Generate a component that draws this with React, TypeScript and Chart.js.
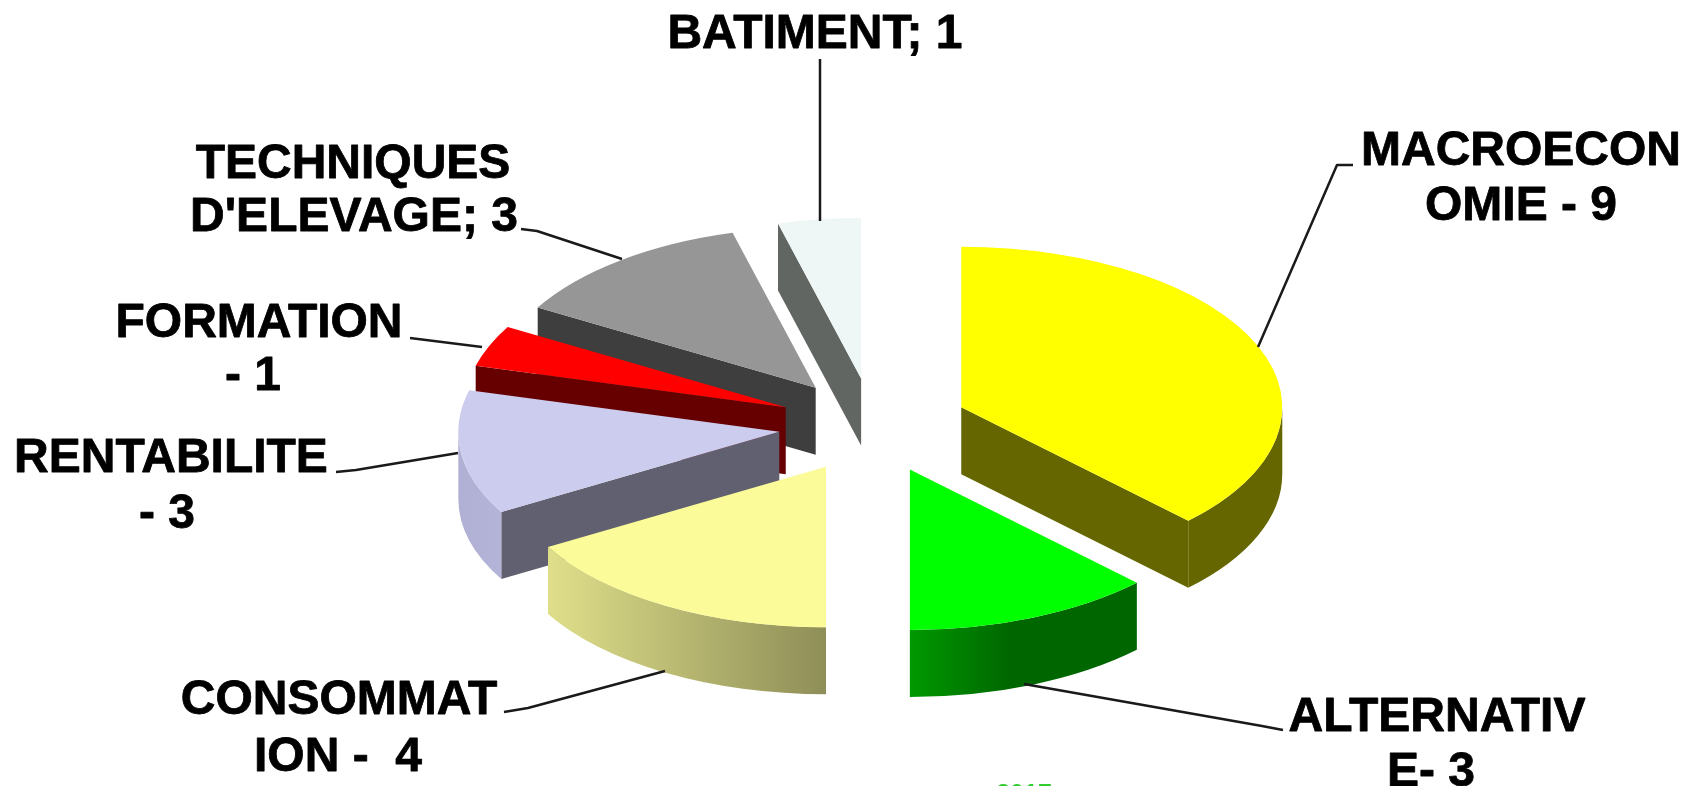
import React, { useEffect, useRef } from "react";
import { Chart, registerables } from "chart.js";

Chart.register(...registerables);

const categories = ["MACROECONOMIE", "ALTERNATIVE", "CONSOMMATION", "RENTABILITE", "FORMATION", "TECHNIQUES D'ELEVAGE", "BATIMENT"];
const sliceValues = [9, 3, 4, 3, 1, 3, 1];
const topColors = ["#FFFF00", "#00FF00", "#FBFB99", "#CCCCEE", "#FF0000", "#969696", "#EEF6F6"];
const cutColors = ["#666600", "#006600", "#8E8E58", "#606070", "#660000", "#3E3E3E", "#626662"];
const wallLeftColors = ["#666600", "#009900", "#DFDF8A", "#B0B0D4", "#660000", "#3E3E3E", "#626662"];
const wallRightColors = ["#666600", "#006600", "#8E8E58", "#B4B4D8", "#660000", "#3E3E3E", "#626662"];
const wallGradientEnd = [1, 0.45, 1, 1, 1, 1, 1];

const labelLines = [
  ["MACROECON", "OMIE - 9"],
  ["ALTERNATIV", "E- 3"],
  ["CONSOMMAT", "ION -  4"],
  ["RENTABILITE", "- 3"],
  ["FORMATION", "- 1"],
  ["TECHNIQUES", "D'ELEVAGE; 3"],
  ["BATIMENT; 1"],
];
const footerText = "2017";

const SQUASH = 0.5;
const EXPLODE = 95;
const DEPTH = 67;
const TAU = Math.PI * 2;

const labelXs = [[1521, 1521], [1437, 1431], [339, 338], [171, 167], [259, 253], [353, 354], [815]];
const labelBaselines = [[165, 220], [731, 786], [714, 771], [472, 528], [337, 390], [178, 231], [48]];
const leaders = [
  [[1353, 165], [1337, 165], [1258, 347]],
  [[1283, 730], [1262, 726], [1024, 684]],
  [[504, 712], [528, 708], [665, 671]],
  [[336, 472], [356, 470], [458, 453]],
  [[410, 338], [482, 347]],
  [[521, 229], [537, 231], [622, 259]],
  [[820, 59], [820, 221]],
];

const pie3d = {
  id: "pie3d",
  beforeDatasetsDraw(chart: any) {
    const ctx: CanvasRenderingContext2D = chart.ctx;
    const arcs: any[] = chart.getDatasetMeta(0).data;
    const order = arcs
      .map((arc, i) => ({ arc, i, mid: (arc.startAngle + arc.endAngle) / 2 }))
      .sort((a, b) => Math.sin(a.mid) - Math.sin(b.mid));

    for (const { arc, i, mid } of order) {
      const ax = arc.x + Math.cos(mid) * EXPLODE;
      const ay = arc.y + Math.sin(mid) * EXPLODE * SQUASH;
      const r = arc.outerRadius;

      // straight cut faces that look towards the viewer
      const face = (angle: number) => {
        ctx.beginPath();
        ctx.moveTo(ax, ay);
        ctx.lineTo(ax + Math.cos(angle) * r, ay + Math.sin(angle) * r * SQUASH);
        ctx.lineTo(ax + Math.cos(angle) * r, ay + Math.sin(angle) * r * SQUASH + DEPTH);
        ctx.lineTo(ax, ay + DEPTH);
        ctx.closePath();
        ctx.fillStyle = cutColors[i];
        ctx.fill();
      };
      if (-Math.cos(arc.startAngle) > 1e-6) face(arc.startAngle);
      if (Math.cos(arc.endAngle) > 1e-6) face(arc.endAngle);

      // outer rim: the part of the slice's arc on the near half of the ellipse
      for (const shift of [0, TAU, -TAU]) {
        const a0 = Math.max(arc.startAngle + shift, 0);
        const a1 = Math.min(arc.endAngle + shift, Math.PI);
        if (a1 <= a0) continue;
        ctx.beginPath();
        ctx.ellipse(ax, ay, r, r * SQUASH, 0, a0, a1);
        ctx.ellipse(ax, ay + DEPTH, r, r * SQUASH, 0, a1, a0, true);
        ctx.closePath();
        const xs = [ax + Math.cos(a0) * r, ax + Math.cos(a1) * r];
        const grad = ctx.createLinearGradient(Math.min(...xs), 0, Math.max(...xs), 0);
        grad.addColorStop(0, wallLeftColors[i]);
        grad.addColorStop(wallGradientEnd[i], wallRightColors[i]);
        ctx.fillStyle = grad;
        ctx.fill();
      }

      // top surface: the library's own arc element, flattened and moved out
      ctx.save();
      ctx.translate(ax, ay);
      ctx.scale(1, SQUASH);
      ctx.translate(-arc.x, -arc.y);
      arc.draw(ctx);
      ctx.restore();
    }
    return false;
  },
  afterDraw(chart: any) {
    const ctx: CanvasRenderingContext2D = chart.ctx;
    ctx.save();
    ctx.strokeStyle = "#1a1a1a";
    ctx.lineWidth = 2.5;
    ctx.lineJoin = "round";
    for (const line of leaders) {
      ctx.beginPath();
      line.forEach(([x, y], k) => (k ? ctx.lineTo(x, y) : ctx.moveTo(x, y)));
      ctx.stroke();
    }
    ctx.fillStyle = "#000000";
    ctx.strokeStyle = "#000000";
    ctx.lineWidth = 0.8;
    ctx.font = 'bold 48px "Liberation Sans", Arial, sans-serif';
    ctx.textAlign = "center";
    ctx.textBaseline = "alphabetic";
    labelLines.forEach((lines, i) =>
      lines.forEach((text, k) => {
        ctx.fillText(text, labelXs[i][k], labelBaselines[i][k]);
        ctx.strokeText(text, labelXs[i][k], labelBaselines[i][k]);
      })
    );
    ctx.fillStyle = "#33CC33";
    ctx.font = 'bold 25px "Liberation Sans", Arial, sans-serif';
    ctx.fillText(footerText, 1024, 802);
    ctx.restore();
  },
};

export default function App() {
  const ref = useRef<HTMLCanvasElement>(null);
  useEffect(() => {
    const chart = new Chart(ref.current as HTMLCanvasElement, {
      type: "pie",
      data: {
        labels: categories,
        datasets: [
          {
            data: sliceValues,
            backgroundColor: topColors,
            borderWidth: 0,
            radius: 321,
          } as any,
        ],
      },
      options: {
        animation: false,
        responsive: false,
        devicePixelRatio: 1,
        layout: { padding: { left: 56, top: 65 } },
        plugins: { legend: { display: false }, tooltip: { enabled: false } },
      },
      plugins: [pie3d],
    });
    return () => chart.destroy();
  }, []);
  return (
    <div style={{ position: "absolute", left: 0, top: 0, width: 1691, height: 786, overflow: "hidden", background: "#fff" }}>
      <canvas ref={ref} width={1691} height={786} style={{ display: "block" }} />
    </div>
  );
}
